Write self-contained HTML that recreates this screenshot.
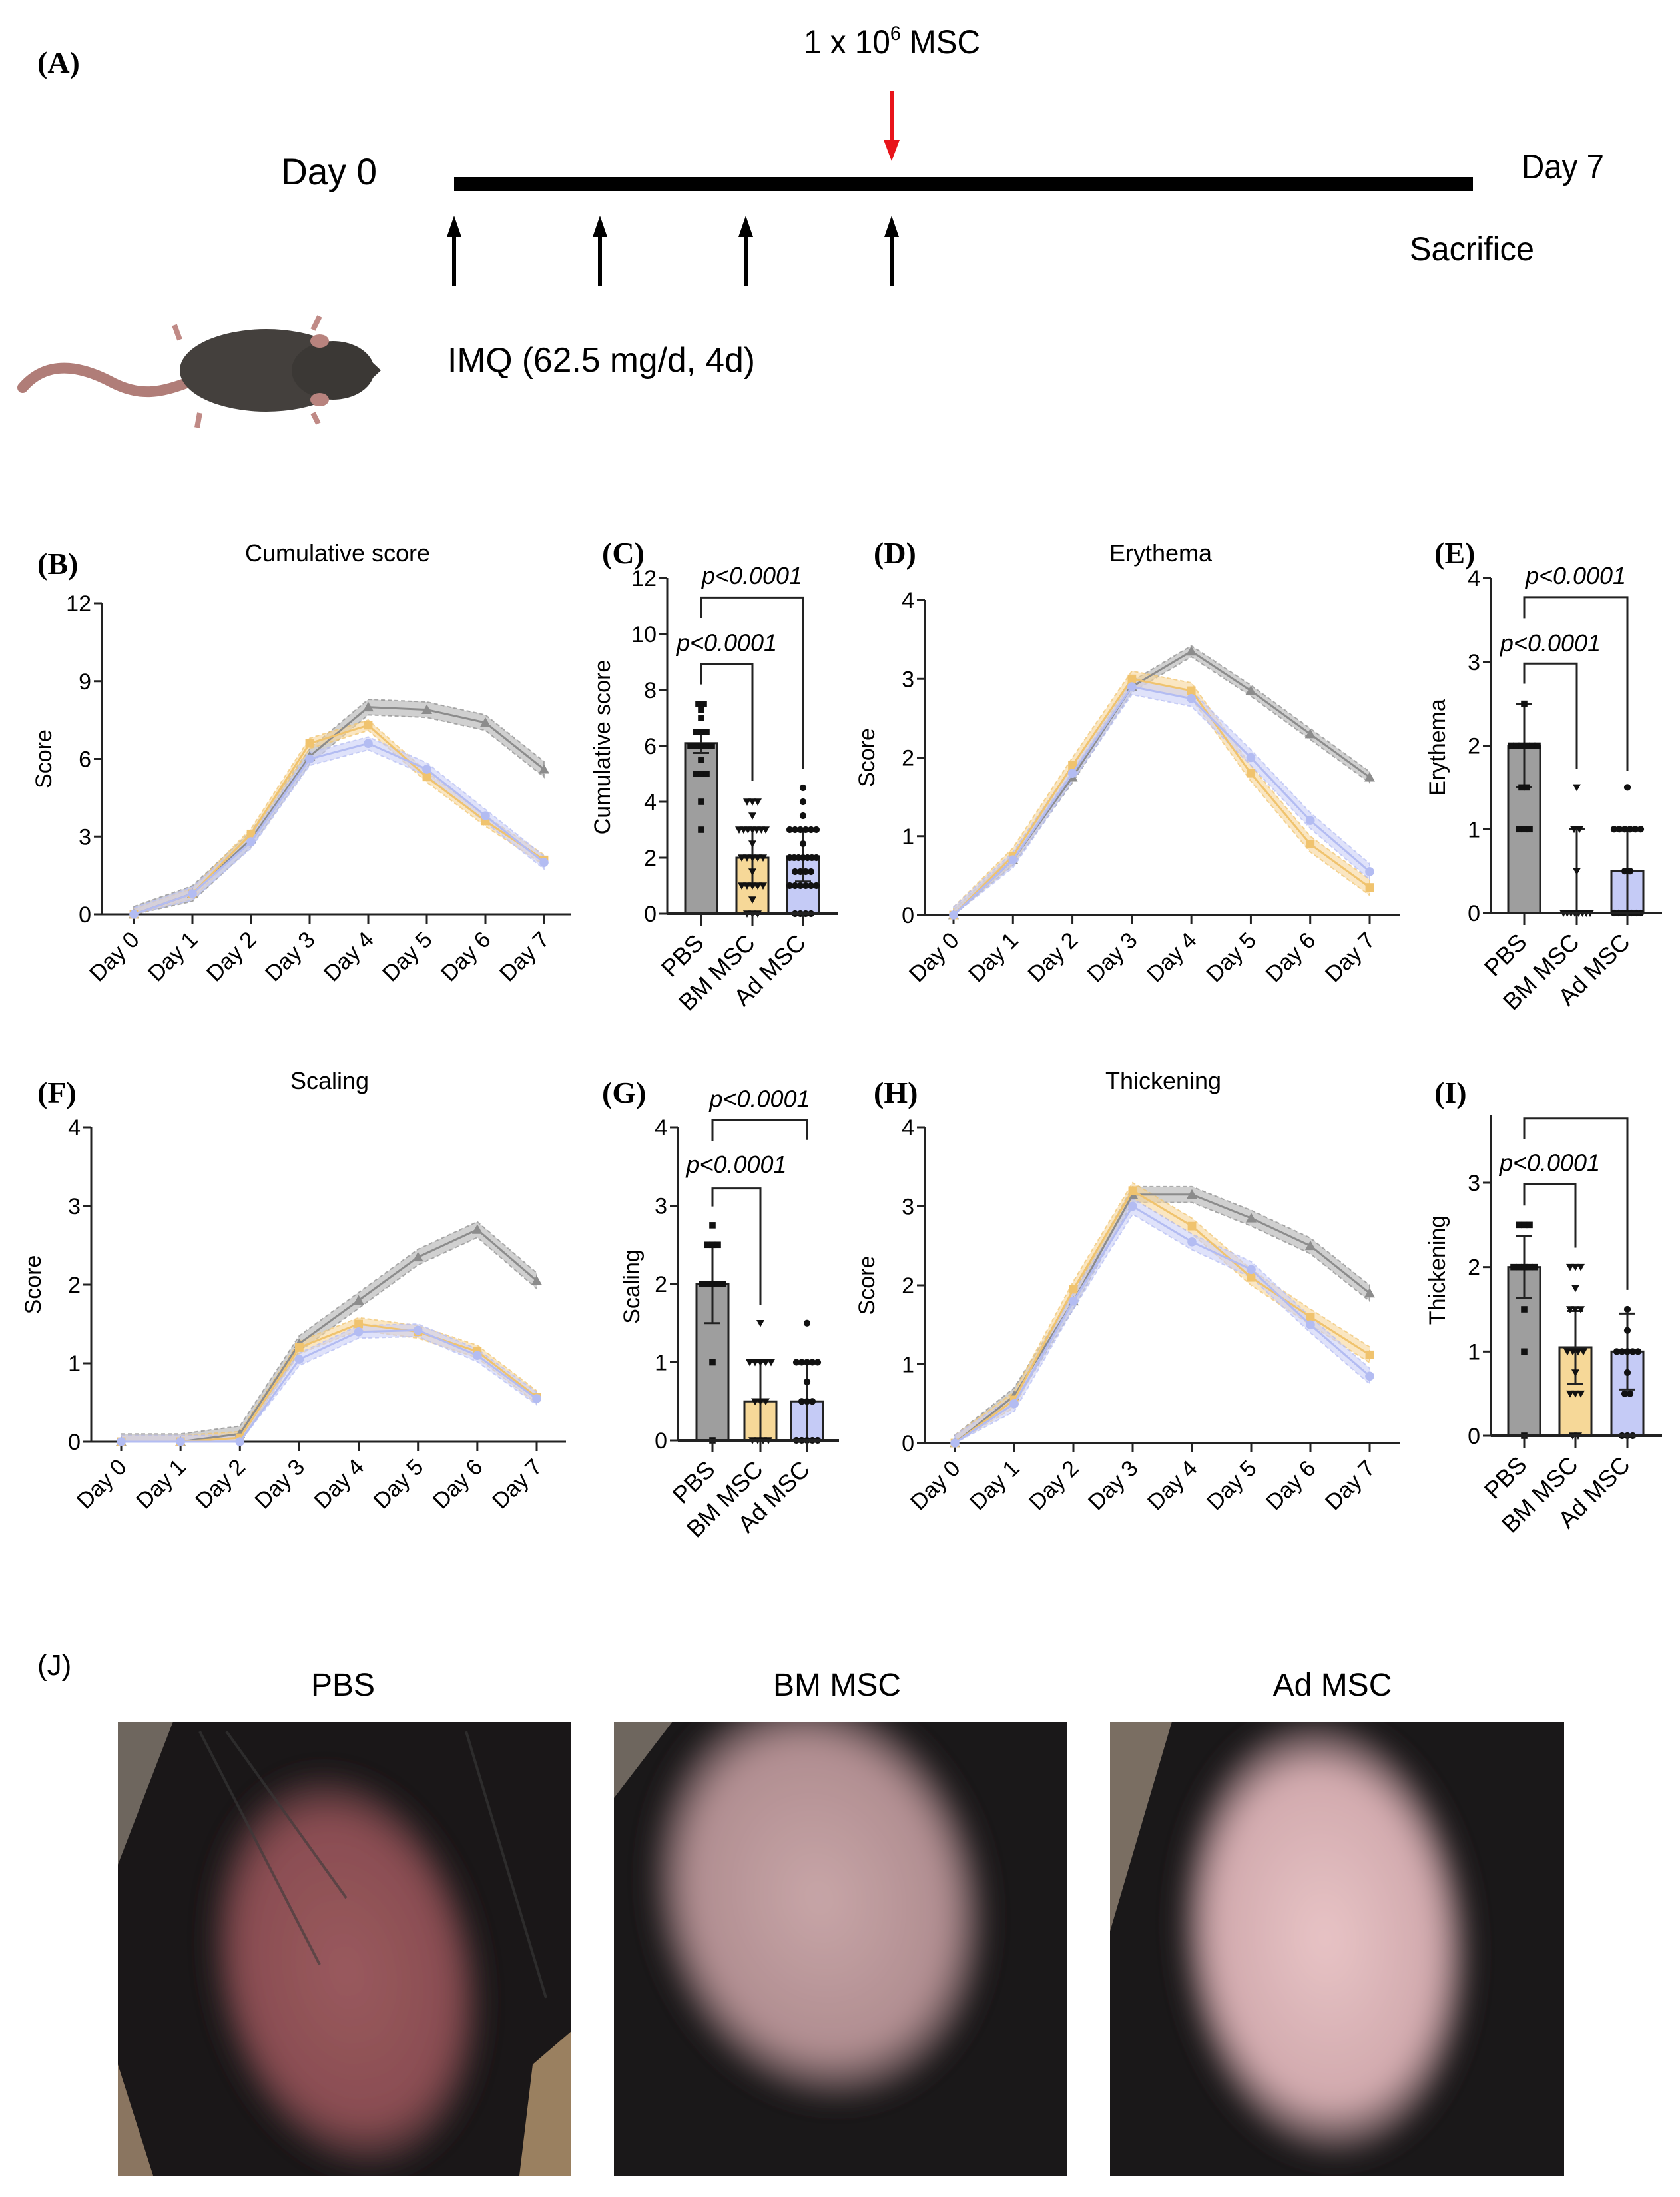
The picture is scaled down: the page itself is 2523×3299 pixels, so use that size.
<!DOCTYPE html>
<html><head><meta charset="utf-8"><style>
html,body{margin:0;padding:0;background:#fff;}
svg{display:block;font-family:"Liberation Sans",Arial,sans-serif;}
</style></head><body>
<svg id="fig" xmlns="http://www.w3.org/2000/svg" width="2523" height="3299" viewBox="0 0 2523 3299">
<defs>
<radialGradient id="skinPBS" cx="50%" cy="50%" r="50%"><stop offset="0" stop-color="#9a5a5e"/><stop offset="0.75" stop-color="#8a4d52"/><stop offset="1" stop-color="#2a2224"/></radialGradient>
<radialGradient id="skinBM" cx="50%" cy="50%" r="50%"><stop offset="0" stop-color="#c8a6a8"/><stop offset="0.75" stop-color="#b08d90"/><stop offset="1" stop-color="#2c2628"/></radialGradient>
<radialGradient id="skinAd" cx="50%" cy="50%" r="50%"><stop offset="0" stop-color="#e8c4c6"/><stop offset="0.75" stop-color="#d1a9ad"/><stop offset="1" stop-color="#2c2628"/></radialGradient>
<filter id="blur"><feGaussianBlur stdDeviation="18"/></filter>
<clipPath id="clip1"><rect x="177" y="2585" width="681" height="682"/></clipPath>
<clipPath id="clip2"><rect x="922" y="2585" width="681" height="682"/></clipPath>
<clipPath id="clip3"><rect x="1667" y="2585" width="682" height="682"/></clipPath>
</defs>

<!-- Panel A timeline -->
<g>
<text x="56" y="109" font-family="Liberation Serif" font-weight="bold" font-size="46">(A)</text>
<text x="1207" y="80" font-size="50" textLength="265" lengthAdjust="spacingAndGlyphs">1 x 10<tspan dy="-20" font-size="30">6</tspan><tspan dy="20"> MSC</tspan></text>
<line x1="1339" y1="136" x2="1339" y2="215" stroke="#e8141a" stroke-width="6"/>
<polygon points="1327,210 1351,210 1339,242" fill="#e8141a"/>
<rect x="682" y="266" width="1530" height="21" fill="#000"/>
<text x="422" y="277" font-size="56" textLength="144" lengthAdjust="spacingAndGlyphs">Day 0</text>
<text x="2285" y="268" font-size="52" textLength="124" lengthAdjust="spacingAndGlyphs">Day 7</text>
<text x="2117" y="391" font-size="50" textLength="187" lengthAdjust="spacingAndGlyphs">Sacrifice</text>
<text x="672" y="558" font-size="52" textLength="462" lengthAdjust="spacingAndGlyphs">IMQ (62.5 mg/d, 4d)</text>
<g fill="#000" stroke="#000">
<line x1="682" y1="350" x2="682" y2="429" stroke-width="6"/><polygon points="671,356 693,356 682,324" stroke="none"/>
<line x1="901" y1="350" x2="901" y2="429" stroke-width="6"/><polygon points="890,356 912,356 901,324" stroke="none"/>
<line x1="1120" y1="350" x2="1120" y2="429" stroke-width="6"/><polygon points="1109,356 1131,356 1120,324" stroke="none"/>
<line x1="1339" y1="350" x2="1339" y2="429" stroke-width="6"/><polygon points="1328,356 1350,356 1339,324" stroke="none"/>
</g>
<g>
<path d="M34,582 C70,540 120,548 170,575 C210,595 240,590 280,575" fill="none" stroke="#b07d78" stroke-width="16" stroke-linecap="round"/>
<path d="M270,510 l-8,-22 M300,620 l-4,22 M470,495 l10,-20 M470,620 l8,16" stroke="#c08a86" stroke-width="8"/>
<ellipse cx="400" cy="556" rx="130" ry="62" fill="#44403d"/>
<ellipse cx="500" cy="556" rx="62" ry="44" fill="#3b3835"/>
<ellipse cx="480" cy="512" rx="14" ry="10" fill="#b8837e"/>
<ellipse cx="480" cy="600" rx="14" ry="10" fill="#b8837e"/>
<polygon points="555,540 572,556 555,572" fill="#3b3835"/>
</g>
</g>

<!-- Panel J photos -->
<g>
<text x="56" y="2515" font-size="44">(J)</text>
<text x="515" y="2546" font-size="48" text-anchor="middle">PBS</text>
<text x="1257" y="2546" font-size="48" text-anchor="middle">BM MSC</text>
<text x="2001" y="2546" font-size="48" text-anchor="middle">Ad MSC</text>
<g clip-path="url(#clip1)">
<rect x="177" y="2585" width="681" height="682" fill="#1a1718"/>
<polygon points="177,2585 260,2585 177,2800" fill="#6e665e"/>
<polygon points="177,3100 230,3267 177,3267" fill="#8a7560"/>
<polygon points="800,3100 858,3050 858,3267 780,3267" fill="#9a8060"/>
<ellipse cx="520" cy="2960" rx="200" ry="300" fill="url(#skinPBS)" filter="url(#blur)" transform="rotate(-12 520 2960)"/>
<path d="M300,2600 L480,2950 M340,2600 L520,2850 M700,2600 L820,3000" stroke="#3a3a3a" stroke-width="4" opacity="0.6"/>
</g>
<g clip-path="url(#clip2)">
<rect x="922" y="2585" width="681" height="682" fill="#1a1819"/>
<polygon points="922,2585 1010,2585 922,2700" fill="#6e665e"/>
<ellipse cx="1230" cy="2850" rx="250" ry="310" fill="url(#skinBM)" filter="url(#blur)" transform="rotate(-15 1230 2850)"/>
</g>
<g clip-path="url(#clip3)">
<rect x="1667" y="2585" width="682" height="682" fill="#1a1819"/>
<polygon points="1667,2585 1760,2585 1667,2900" fill="#7a6e62"/>
<ellipse cx="1990" cy="2910" rx="220" ry="330" fill="url(#skinAd)" filter="url(#blur)" transform="rotate(-5 1990 2910)"/>
</g>
</g>
<g id="charts"></g>
</svg>
<script>
// ---------- data ----------
const dayLabels = ['Day 0','Day 1','Day 2','Day 3','Day 4','Day 5','Day 6','Day 7'];
const groupLabels = ['PBS','BM MSC','Ad MSC'];

const cumTicks = [0,3,6,9,12];
const cumPBS = [0,0.8,2.9,6.1,8.0,7.9,7.4,5.6];
const cumBM  = [0,0.8,3.1,6.6,7.3,5.3,3.6,2.1];
const cumAd  = [0,0.8,2.8,6.0,6.6,5.6,3.8,2.0];
const cumSem = [0.3,0.2,0.25];

const eryTicks = [0,1,2,3,4];
const eryPBS = [0,0.7,1.75,2.9,3.35,2.85,2.3,1.75];
const eryBM  = [0,0.75,1.9,3.0,2.85,1.8,0.9,0.35];
const eryAd  = [0,0.7,1.8,2.9,2.75,2.0,1.2,0.55];
const erySem = [0.07,0.1,0.1];

const scaTicks = [0,1,2,3,4];
const scaPBS = [0,0,0.1,1.25,1.8,2.35,2.7,2.05];
const scaBM  = [0,0,0.05,1.2,1.5,1.4,1.15,0.57];
const scaAd  = [0,0,0,1.05,1.4,1.42,1.1,0.55];
const scaSem = [0.1,0.08,0.08];

const thiTicks = [0,1,2,3,4];
const thiPBS = [0,0.6,1.8,3.15,3.15,2.85,2.5,1.9];
const thiBM  = [0,0.55,1.95,3.2,2.75,2.1,1.6,1.12];
const thiAd  = [0,0.5,1.8,3.0,2.55,2.2,1.5,0.85];
const thiSem = [0.1,0.1,0.1];

const cumBarTicks = [0,2,4,6,8,10,12];
const cumBarMeans = [6.1,2.0,2.05];
const cumBarSd = [0.35,1.0,0.9];
const cumPtsPBS = [7.5,7.5,7.3,7,6.5,6.5,6.5,6,6,6,6,6,5.5,5,5,5,4,3];
const cumPtsBM = [4,4,4,3.5,3,3,3,3,3,3,3,2.5,2,2,2,2,2,1.5,1,1,1,1,1,0.5,0,0,0];
const cumPtsAd = [4.5,4,3.5,3,3,3,3,3,3,2.5,2,2,2,2,2,2,2,1.5,1.5,1.5,1.5,1,1,1,1,1,1,0,0,0,0];

const eryBarTicks = [0,1,2,3,4];
const eryBarMeans = [2.0,0.0,0.5];
const eryBarSd = [0.5,1.0,0.5];
const eryPtsPBS = [2.5,2,2,2,2,2,2,1.5,1.5,1,1,1];
const eryPtsBM = [1.5,1,1,0.5,0,0,0,0,0,0,0,0];
const eryPtsAd = [1.5,1,1,1,1,1,1,0.5,0.5,0,0,0,0,0,0,0];

const scaBarTicks = [0,1,2,3,4];
const scaBarMeans = [2.0,0.5,0.5];
const scaBarSd = [0.5,0.5,0.5];
const scaPtsPBS = [2.75,2.5,2.5,2.5,2,2,2,2,2,1,0];
const scaPtsBM = [1.5,1,1,1,1,1,0.5,0.5,0.5,0,0,0,0];
const scaPtsAd = [1.5,1,1,1,1,1,0.75,0.5,0.5,0.5,0,0,0,0,0];

const thiBarTicks = [0,1,2,3];
const thiBarMeans = [2.0,1.05,1.0];
const thiBarSd = [0.37,0.43,0.45];
const thiPtsPBS = [2.5,2.5,2.5,2,2,2,2,2,1.5,1,0];
const thiPtsBM = [2,2,2,1.75,1.5,1.5,1.5,1,1,1,1,0.75,0.5,0.5,0.5,0,0];
const thiPtsAd = [1.5,1.25,1,1,1,1,1,0.75,0.5,0.5,0,0,0];

// ---------- drawing ----------
const NS = 'http://www.w3.org/2000/svg';
const root = document.getElementById('charts');
function mk(tag, attrs, parent){const e=document.createElementNS(NS,tag);for(const k in attrs)e.setAttribute(k,attrs[k]);(parent||root).appendChild(e);return e;}
function tx(str, attrs, parent){const e=mk('text',attrs,parent);e.textContent=str;return e;}

const lineCol = ['#8c8c8c','#f0c36e','#b3bcf2'];
const bandCol = ['#b0b0b0','#f6d59a','#c9cff6'];
const barCol = ['#9e9e9e','#f6d898','#c5cbf6'];

function marker(g, kind, x, y, col, s){
  let m;
  if(kind===0) m = mk('polygon',{points:`${x-s},${y+s*0.8} ${x+s},${y+s*0.8} ${x},${y-s}`,fill:col},g);
  else if(kind===1) m = mk('rect',{x:x-s*0.8,y:y-s*0.8,width:s*1.6,height:s*1.6,fill:col},g);
  else if(kind===3) m = mk('polygon',{points:`${x-s},${y-s*0.8} ${x+s},${y-s*0.8} ${x},${y+s}`,fill:col},g);
  else m = mk('circle',{cx:x,cy:y,r:s*0.85,fill:col},g);
  return m;
}

function panelLabel(g, str, x, y){
  const t = tx(str,{x:x,y:y,'font-family':'Liberation Serif','font-weight':'bold','font-size':46},g);
  
  
}

function lineChart(name, L, ticks, max, series, sems, title, panel){
  const g = mk('g',{});
  
  
  const xs = i => L.d0 + (L.d7-L.d0)*i/7;
  const ys = v => L.y0 - (L.y0-L.yTop)*v/max;
  panelLabel(g, panel, L.px, L.py);
  const t = tx(title,{x:L.tx,y:L.ty,'font-size':36,'text-anchor':'middle'},g);
  
  
  const yl = tx('Score',{x:0,y:0,'font-size':34,'text-anchor':'middle',transform:`translate(${L.ax-76},${(L.yTop+L.y0)/2}) rotate(-90)`},g);
  
  
  const ya = mk('line',{x1:L.ax,y1:L.yTop,x2:L.ax,y2:L.y0,stroke:'#222','stroke-width':3},g);
  
  
  const xa = mk('line',{x1:L.ax,y1:L.y0,x2:L.xEnd,y2:L.y0,stroke:'#222','stroke-width':3},g);
  
  
  ticks.forEach(v=>{
    mk('line',{x1:L.ax-12,y1:ys(v),x2:L.ax,y2:ys(v),stroke:'#222','stroke-width':3},g);
    const tl = tx(String(v),{x:L.ax-16,y:ys(v)+12,'font-size':34,'text-anchor':'end'},g);
    
    
  });
  dayLabels.forEach((d,i)=>{
    mk('line',{x1:xs(i),y1:L.y0,x2:xs(i),y2:L.y0+14,stroke:'#222','stroke-width':3},g);
    const dl = tx(d,{x:0,y:0,'font-size':34,'text-anchor':'end',transform:`translate(${xs(i)+10},${L.y0+40}) rotate(-45)`},g);
    
    
  });
  series.forEach((s,k)=>{
    const up = s.map((v,i)=>`${xs(i)},${ys(v+sems[k])}`);
    const dn = s.map((v,i)=>`${xs(i)},${ys(Math.max(0,v-sems[k]))}`).reverse();
    const band = mk('polygon',{points:up.concat(dn).join(' '),fill:bandCol[k],'fill-opacity':0.6,stroke:lineCol[k],'stroke-width':2,'stroke-dasharray':'6 4','stroke-opacity':0.7},g);
    
    
  });
  series.forEach((s,k)=>{
    const pl = mk('polyline',{points:s.map((v,i)=>`${xs(i)},${ys(v)}`).join(' '),fill:'none',stroke:lineCol[k],'stroke-width':3},g);
    
    
    s.forEach((v,i)=>{
      const m = marker(g,k,xs(i),ys(v),lineCol[k],8);
      
      
    });
  });
}

function barChart(name, B, ticks, max, means, sds, pts, ylabel, panel, brackets){
  const g = mk('g',{});
  
  
  const ys = v => B.y0 - (B.y0-B.yMax)*v/max;
  panelLabel(g, panel, B.px, B.py);
  const yl = tx(ylabel,{x:0,y:0,'font-size':34,'text-anchor':'middle',transform:`translate(${B.lx},${B.ly}) rotate(-90)`},g);
  
  
  const ya = mk('line',{x1:B.ax,y1:B.axTop,x2:B.ax,y2:B.y0,stroke:'#222','stroke-width':3},g);
  
  
  ticks.forEach(v=>{
    mk('line',{x1:B.ax-12,y1:ys(v),x2:B.ax,y2:ys(v),stroke:'#222','stroke-width':3},g);
    const tl = tx(String(v),{x:B.ax-16,y:ys(v)+12,'font-size':34,'text-anchor':'end'},g);
    
    
  });
  means.forEach((m,k)=>{
    const cx = B.bx[k];
    const bar = mk('rect',{x:cx-24,y:ys(m),width:48,height:B.y0-ys(m),fill:barCol[k],stroke:'#222','stroke-width':3},g);
    
    
    const e1 = mk('line',{x1:cx,y1:ys(m+sds[k]),x2:cx,y2:ys(Math.max(0,m-sds[k])),stroke:'#222','stroke-width':3},g);
    
    
    mk('line',{x1:cx-12,y1:ys(m+sds[k]),x2:cx+12,y2:ys(m+sds[k]),stroke:'#222','stroke-width':3},g);
    mk('line',{x1:cx-12,y1:ys(Math.max(0,m-sds[k])),x2:cx+12,y2:ys(Math.max(0,m-sds[k])),stroke:'#222','stroke-width':3},g);
    const counts = {};
    pts[k].forEach(v=>{counts[v]=(counts[v]||0)+1;});
    const seen = {};
    pts[k].forEach(v=>{
      const n = counts[v]; const i = seen[v]=(seen[v]||0)+1;
      const step = n>1 ? Math.min(8, 40/(n-1)) : 0;
      const off = (i-1-(n-1)/2)*step;
      const p = marker(g,k===0?1:(k===1?3:2),cx+off,ys(v),'#111',6);
      
      
    });
    mk('line',{x1:cx,y1:B.y0,x2:cx,y2:B.y0+18,stroke:'#222','stroke-width':3},g);
    const gl = tx(groupLabels[k],{x:0,y:0,'font-size':36,'text-anchor':'end',transform:`translate(${cx+6},${B.y0+46}) rotate(-45)`},g);
    
    
  });
  const xa = mk('line',{x1:B.ax,y1:B.y0,x2:B.xEnd,y2:B.y0,stroke:'#222','stroke-width':4},g);
  
  
  brackets.forEach(br=>{
    const x1 = B.bx[0], x2 = B.bx[br.to];
    const p = mk('polyline',{points:`${x1},${ys(br.l)} ${x1},${ys(br.y)} ${x2},${ys(br.y)} ${x2},${ys(br.r)}`,fill:'none',stroke:'#222','stroke-width':3},g);
    
    
    if(br.t!==null){
      const t = tx('p<0.0001',{x:(x1+x2)/2,y:ys(br.t)+13,'font-size':36,'font-style':'italic','text-anchor':'middle'},g);
      
      
    }
  });
}

lineChart('panel-b-cumulative-score',{ax:153,d0:201,d7:817,yTop:906,y0:1373,xEnd:858,tx:507,ty:843,px:56,py:862},cumTicks,12,[cumPBS,cumBM,cumAd],cumSem,'Cumulative score','(B)');
lineChart('panel-d-erythema',{ax:1389,d0:1432,d7:2057,yTop:901,y0:1374,xEnd:2102,tx:1743,ty:843,px:1312,py:846},eryTicks,4,[eryPBS,eryBM,eryAd],erySem,'Erythema','(D)');
lineChart('panel-f-scaling',{ax:137,d0:182,d7:806,yTop:1693,y0:2165,xEnd:850,tx:495,ty:1635,px:56,py:1656},scaTicks,4,[scaPBS,scaBM,scaAd],scaSem,'Scaling','(F)');
lineChart('panel-h-thickening',{ax:1389,d0:1434,d7:2057,yTop:1693,y0:2167,xEnd:2102,tx:1747,ty:1635,px:1312,py:1656},thiTicks,4,[thiPBS,thiBM,thiAd],thiSem,'Thickening','(H)');

barChart('panel-c-cumulative-bars',{ax:1002,yMax:868,axTop:868,y0:1372,bx:[1053,1130,1206],xEnd:1259,lx:916,ly:1122,px:904,py:846},cumBarTicks,12,cumBarMeans,cumBarSd,[cumPtsPBS,cumPtsBM,cumPtsAd],'Cumulative score','(C)',
  [{to:2,y:11.3,l:10.57,r:5.17,t:12.1},{to:1,y:8.93,l:8.2,r:4.74,t:9.7}]);
barChart('panel-e-erythema-bars',{ax:2239,yMax:868,axTop:868,y0:1371,bx:[2289,2368,2444],xEnd:2496,lx:2170,ly:1122,px:2154,py:846},eryBarTicks,4,eryBarMeans,eryBarSd,[eryPtsPBS,eryPtsBM,eryPtsAd],'Erythema','(E)',
  [{to:2,y:3.77,l:3.52,r:1.70,t:4.03},{to:1,y:2.98,l:2.74,r:1.72,t:3.23}]);
barChart('panel-g-scaling-bars',{ax:1018,yMax:1693,axTop:1693,y0:2163,bx:[1070,1142,1212],xEnd:1260,lx:960,ly:1932,px:904,py:1656},scaBarTicks,4,scaBarMeans,scaBarSd,[scaPtsPBS,scaPtsBM,scaPtsAd],'Scaling','(G)',
  [{to:2,y:4.09,l:3.83,r:3.84,t:4.37},{to:1,y:3.22,l:2.99,r:1.73,t:3.53}]);
barChart('panel-i-thickening-bars',{ax:2239,yMax:1776,axTop:1674,y0:2156,bx:[2289,2366,2444],xEnd:2496,lx:2170,ly:1907,px:2154,py:1656},thiBarTicks,3,thiBarMeans,thiBarSd,[thiPtsPBS,thiPtsBM,thiPtsAd],'Thickening','(I)',
  [{to:2,y:3.76,l:3.52,r:1.73,t:null},{to:1,y:2.98,l:2.73,r:2.23,t:3.24}]);
</script>
</body></html>
